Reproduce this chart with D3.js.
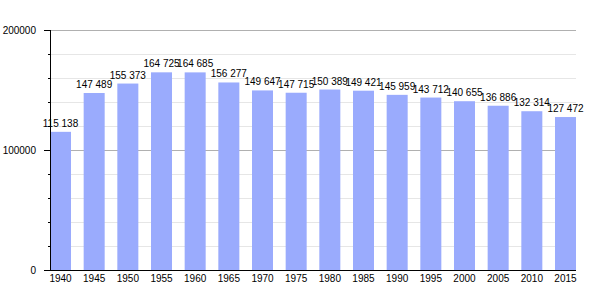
<!DOCTYPE html>
<html><head><meta charset="utf-8">
<script src="https://cdn.jsdelivr.net/npm/d3@7"></script>
<style>body{margin:0;background:#fff}svg{display:block}text{font-family:"Liberation Sans",Arial,sans-serif}</style>
</head><body>
<svg id="c" width="605" height="300"></svg>
<script>
const years = ["1940","1945","1950","1955","1960","1965","1970","1975","1980","1985","1990","1995","2000","2005","2010","2015"];
const population = [115138,147489,155373,164725,164685,156277,149647,147715,150389,149421,145959,143712,140655,136886,132314,127472];
const yTicks = [0,100000,200000];
const yMinorTicks = [20000,40000,60000,80000,120000,140000,160000,180000];

const svg = d3.select("#c");
const L = 50, R = 576, T = 30, B = 270;
const x = d3.scaleBand().domain(years).range([L, R]).paddingInner(0.376).paddingOuter(0);
const y = d3.scaleLinear().domain([0, 200000]).range([B, T]);
const fmt = v => d3.format(",")(v).replace(/,/g, " ");

// minor gridlines
svg.append("g").selectAll("line").data(yMinorTicks).join("line")
  .attr("x1", L).attr("x2", R).attr("y1", d => y(d)).attr("y2", d => y(d))
  .attr("stroke", "#e6e6e6").attr("stroke-width", 1).attr("shape-rendering", "crispEdges");
// major gridlines
svg.append("g").selectAll("line").data(yTicks.filter(d => d > 0)).join("line")
  .attr("x1", L).attr("x2", R).attr("y1", d => y(d)).attr("y2", d => y(d))
  .attr("stroke", "#b0b0b0").attr("stroke-width", 1).attr("shape-rendering", "crispEdges");

// bars
svg.append("g").selectAll("rect").data(population).join("rect")
  .attr("x", (d, i) => x(years[i])).attr("width", x.bandwidth())
  .attr("y", d => y(d)).attr("height", d => B - y(d))
  .attr("fill", "#9aabfd");

// value labels
svg.append("g").selectAll("text").data(population).join("text")
  .attr("x", (d, i) => x(years[i]) + x.bandwidth() / 2)
  .attr("y", d => y(d) - 5)
  .attr("text-anchor", "middle").attr("font-size", 10).attr("fill", "#000")
  .text(d => fmt(d));

// y axis minor ticks
const yMinor = d3.axisLeft(y).tickValues(yMinorTicks).tickSize(2).tickFormat("");
svg.append("g").attr("transform", `translate(${L},0)`).call(yMinor)
  .call(g => g.select(".domain").remove())
  .call(g => g.selectAll("line").attr("stroke", "#000").attr("shape-rendering", "crispEdges"));
// y axis major
const yAxis = d3.axisLeft(y).tickValues(yTicks).tickSize(6).tickPadding(8).tickFormat(d3.format("d"));
svg.append("g").attr("transform", `translate(${L},0)`).call(yAxis)
  .call(g => g.select(".domain").attr("d", `M0,${T}V${B}`).attr("stroke", "#000").attr("shape-rendering", "crispEdges"))
  .call(g => g.selectAll("line").attr("stroke", "#000").attr("shape-rendering", "crispEdges"))
  .call(g => g.selectAll("text").attr("font-size", 10).attr("fill", "#000").attr("font-family", "Liberation Sans, Arial, sans-serif"));

// x axis
const xAxis = d3.axisBottom(x).tickSize(0).tickPadding(5);
svg.append("g").attr("transform", `translate(0,${B})`).call(xAxis)
  .call(g => g.select(".domain").attr("d", `M${L},0H${R}`).attr("stroke", "#000").attr("shape-rendering", "crispEdges"))
  .call(g => g.selectAll("text").attr("font-size", 10).attr("fill", "#000").attr("font-family", "Liberation Sans, Arial, sans-serif"));
</script>
</body></html>
